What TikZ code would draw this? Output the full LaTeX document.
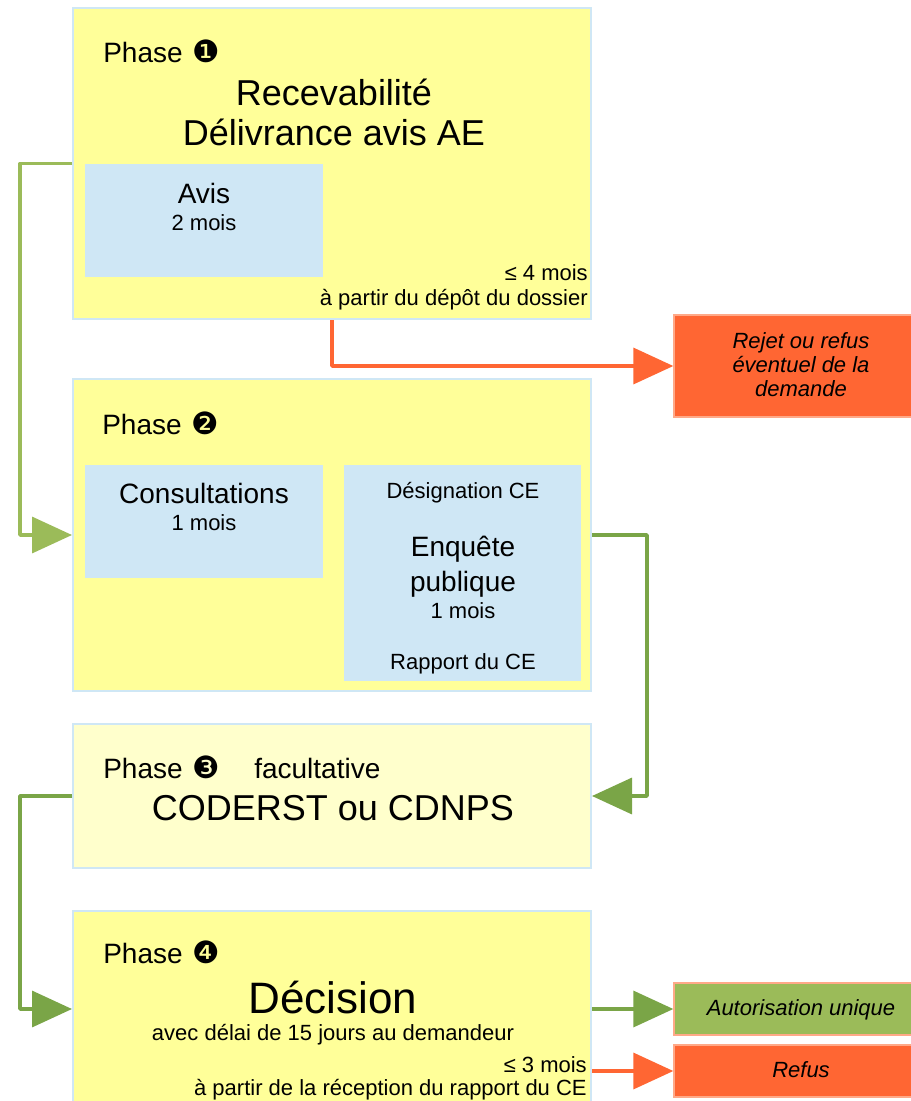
\documentclass[tikz,border=0pt]{standalone}
\usepackage{fontspec}
\setmainfont{Liberation Sans}
\newfontfamily\dingfont{DejaVu Sans}
\usepackage{tikz}
\usetikzlibrary{arrows.meta}
\usetikzlibrary{fit}
\definecolor{phaseyellow}{HTML}{FFFF99}
\definecolor{paleyellow}{HTML}{FFFFCC}
\definecolor{skyblue}{HTML}{CFE7F5}
\definecolor{refusorange}{HTML}{FF6633}
\definecolor{peach}{HTML}{FFA988}
\definecolor{lightgreen}{HTML}{9BBB59}
\definecolor{darkgreen}{HTML}{7AA547}
\tikzset{%
	phasebox/.style={
		draw=skyblue,
		line width=1.5pt,
		fill=phaseyellow,
		inner sep=0pt
	},
	subbox/.style={fill=skyblue, inner sep=0pt},
	resultbox/.style={draw=peach, line width=1pt, inner sep=0pt},
	flow/.style={line width=2.6pt, line join=round, -{Triangle[length=30pt,width=27pt]}}
}
\tikzset{txt/.style={inner sep=0pt, anchor=base}}
\newcommand{\phasenum}[1]{\hspace{7.5pt}{\dingfont\fontsize{23}{23}\selectfont #1}}
\newcommand{\bigfont}{\fontsize{27}{30}\selectfont}
\newcommand{\midfont}{\fontsize{21}{25}\selectfont}
\newcommand{\smallfont}{\fontsize{16.5}{19}\selectfont}

\begin{document}
\begin{tikzpicture}[x=0.75pt, y=-0.75pt]
		\useasboundingbox (0,0) rectangle (911,1101);

		% Phases
		\node[phasebox, fit={(73,8) (591,319)}] (ph1) {};
		\node[phasebox, fit={(73,379) (591,691)}] (ph2) {};
		\node[phasebox, fill=paleyellow, fit={(73,724) (591,868)}] (ph3) {};
		\node[phasebox, fit={(73,911) (591,1107)}] (ph4) {};

		% Inner boxes
		\node[subbox, fit={(85,164) (323,277)}] (avis) {};
		\node[subbox, fit={(85,465) (323,578)}] (consult) {};
		\node[subbox, fit={(344,465) (581,681)}] (enquete) {};

		% Results
		\node[resultbox, fill=refusorange, fit={(674,315) (928,417)}] (rejet) {};
		\node[resultbox, fill=lightgreen, fit={(674,983) (928,1035)}] (autor) {};
		\node[resultbox, fill=refusorange, fit={(674,1045) (928,1097)}] (refus) {};
		\node[txt, font=\smallfont\itshape] (trej1) at (801,348) {Rejet ou refus};
		\node[txt, font=\smallfont\itshape] (trej2) at (801,372) {éventuel de la};
		\node[txt, font=\smallfont\itshape] (trej3) at (801,396) {demande};
		\node[txt, font=\smallfont\itshape] (tautor) at (801,1015) {Autorisation unique};
		\node[txt, font=\smallfont\itshape] (trefus) at (801,1077) {Refus};

		% Phase 1
		\node[txt, anchor=base west, font=\midfont] (t1) at (103,62) {Phase\phasenum{❶}};
		\node[txt, font=\bigfont] (t1a) at (334,105) {Recevabilité};
		\node[txt, font=\bigfont] (t1b) at (334,145) {Délivrance avis AE};
		\node[txt, font=\midfont] (tavis) at (204,203) {Avis};
		\node[txt, font=\smallfont] (tavisd) at (204,230) {2 mois};
		\node[txt, anchor=base east, font=\smallfont] (t1c) at (588,280) {≤ 4 mois};
		\node[txt, anchor=base east, font=\smallfont] (t1d) at (588,305) {à partir du dépôt du dossier};

		% Phase 2
		\node[txt, anchor=base west, font=\midfont] (t2) at (102,434) {Phase\phasenum{❷}};
		\node[txt, font=\midfont] (tcons) at (204,503) {Consultations};
		\node[txt, font=\smallfont] (tconsd) at (204,530) {1 mois};
		\node[txt, font=\smallfont] (tdesig) at (463,498) {Désignation CE};
		\node[txt, font=\midfont] (tenq) at (463,556) {Enquête};
		\node[txt, font=\midfont] (tpub) at (463,591) {publique};
		\node[txt, font=\smallfont] (tenqd) at (463,618) {1 mois};
		\node[txt, font=\smallfont] (trapp) at (463,669) {Rapport du CE};

		% Phase 3
		\node[txt, anchor=base west, font=\midfont] (t3) at (103,778) {Phase\phasenum{❸}};
		\node[txt, anchor=base west, font=\midfont] (t3a) at (254,778) {facultative};
		\node[txt, font=\bigfont] (t3b) at (333,820) {CODERST ou CDNPS};

		% Phase 4
		\node[txt, anchor=base west, font=\midfont] (t4) at (103,963) {Phase\phasenum{❹}};
		\node[txt, font=\fontsize{33}{36}\selectfont] (t4a) at (333,1013) {Décision};
		\node[txt, font=\smallfont] (t4b) at (333,1040) {avec délai de 15 jours au demandeur};
		\node[txt, anchor=base east, font=\smallfont] (t4c) at (587,1072) {≤ 3 mois};
		\node[txt, anchor=base east, font=\smallfont] (t4d) at (587,1095) {à partir de la réception du rapport du CE};

		% Connectors
		\draw[flow, lightgreen] (ph1.west) -- ++(-52,0) |- (ph2.west);
		\draw[flow, darkgreen] (ph2.east) -- ++(55,0) |- (ph3.east);
		\draw[flow, darkgreen] (ph3.west) -- ++(-52,0) |- (ph4.west);
		\draw[flow, refusorange] (ph1.south) |- (rejet.west);
		\draw[flow, darkgreen] (ph4.east |- autor.west) -- (autor.west);
		\draw[flow, refusorange] (ph4.east |- refus.west) -- (refus.west);
	\end{tikzpicture}
\end{document}
